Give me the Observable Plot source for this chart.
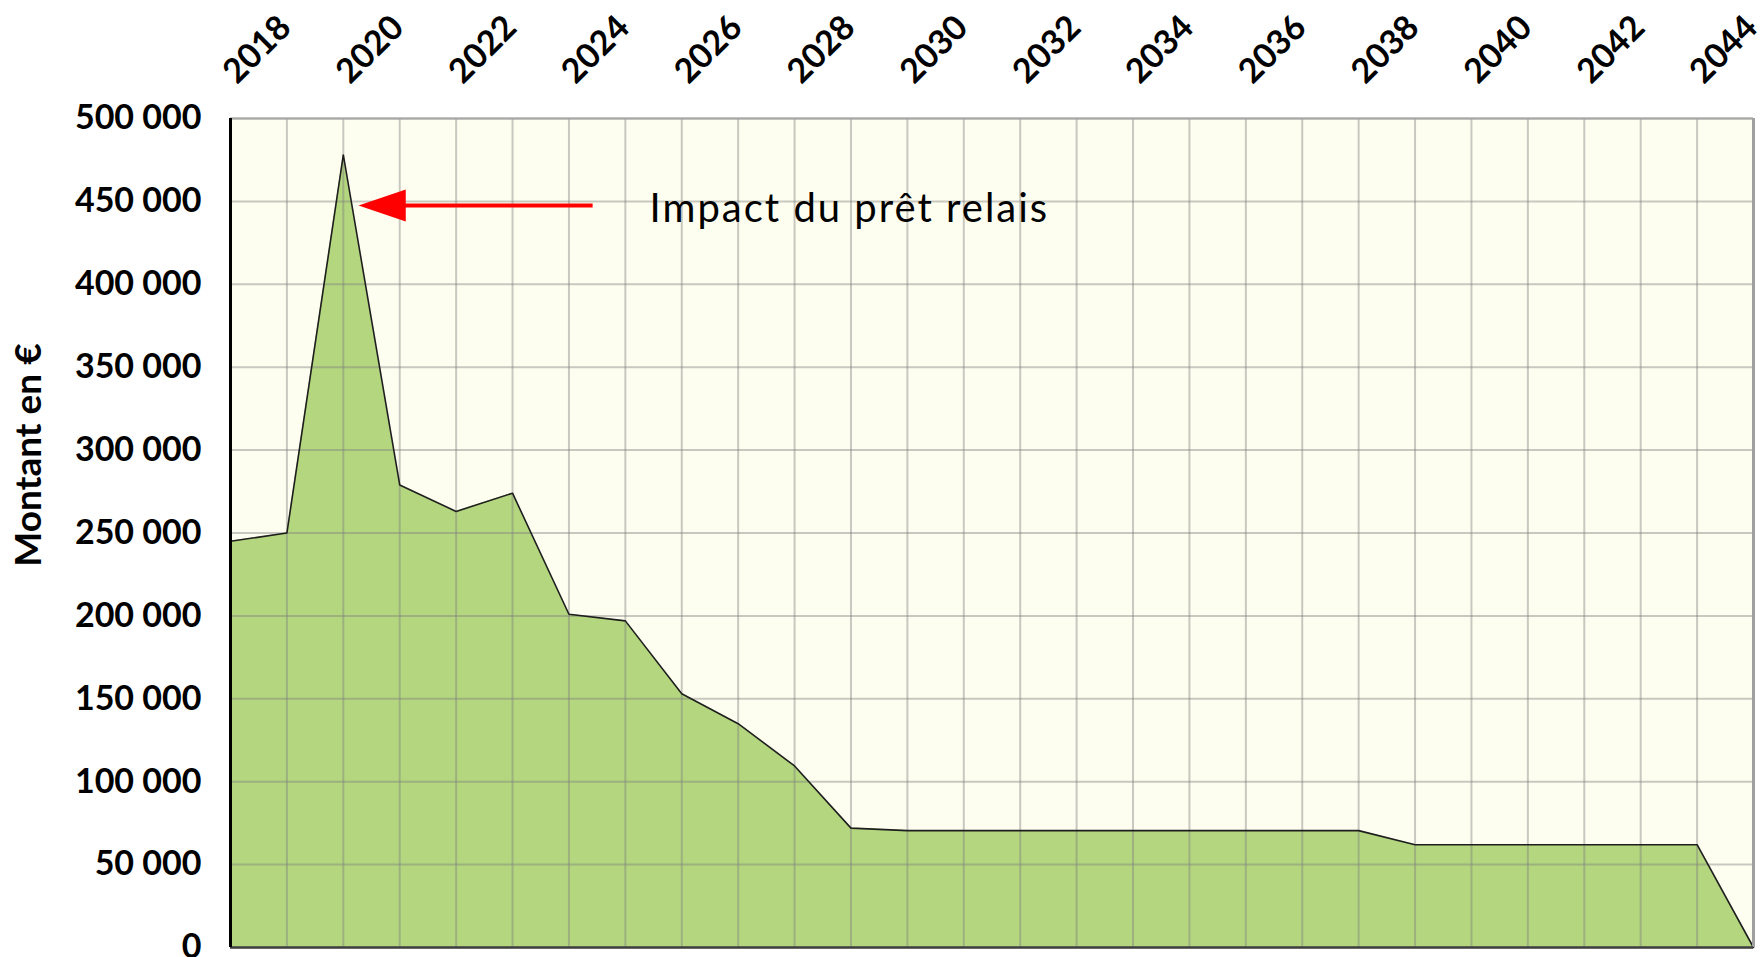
<!DOCTYPE html>
<html>
<head>
<meta charset="utf-8">
<script src="https://cdn.jsdelivr.net/npm/d3@7"></script>
<script src="https://cdn.jsdelivr.net/npm/@observablehq/plot@0.6"></script>
<style>
  html, body { margin: 0; padding: 0; background: #ffffff; }
  svg { display: block; }
</style>
</head>
<body>
<div id="chart"></div>
<script>
// ---- Data ----
const years = [2017, 2018, 2019, 2020, 2021, 2022, 2023, 2024, 2025, 2026,
               2027, 2028, 2029, 2030, 2031, 2032, 2033, 2034, 2035, 2036,
               2037, 2038, 2039, 2040, 2041, 2042, 2043, 2044];
const montants = [245000, 250000, 478000, 279000, 263000, 274000, 201000, 197000, 153000, 135000,
                  109500, 72000, 70500, 70500, 70500, 70500, 70500, 70500, 70500, 70500,
                  70500, 62000, 62000, 62000, 62000, 62000, 62000, 0];
const xTicks = [2018, 2020, 2022, 2024, 2026, 2028, 2030, 2032, 2034, 2036, 2038, 2040, 2042, 2044];
const yTicks = [0, 50000, 100000, 150000, 200000, 250000, 300000, 350000, 400000, 450000, 500000];
const yTitle = ["Montant en €"];
const annotationLabel = [{x: 2024.43, y: 437300, text: "Impact du prêt relais"}];
const arrowHead = [{x: 2019.27, y: 447500}];
const arrowShaft = [{x1: 2020.0, x2: 2023.42, y: 447500}];

const data = years.map((year, i) => ({year, montant: montants[i]}));
const fmt = d3.formatLocale({thousands: " ", grouping: [3], decimal: ",", currency: ["", " €"]}).format(",");

const leftTriangle = {
  draw(ctx, size) {
    const r = Math.sqrt(size / Math.PI);
    ctx.moveTo(0, 0);
    ctx.lineTo(r * 2.95, -r);
    ctx.lineTo(r * 2.95, r);
    ctx.closePath();
  }
};

const gridStroke = "#7f7f7f";
const chart = Plot.plot({
  width: 1761,
  height: 957,
  marginLeft: 230,
  marginRight: 8,
  marginTop: 118,
  marginBottom: 10,
  x: {domain: [2017, 2044], axis: null},
  y: {domain: [0, 500000], axis: null},
  style: {fontFamily: "Lato, 'Open Sans', sans-serif", background: "#ffffff", color: "#000"},
  marks: [
    Plot.frame({fill: "#fefef0", stroke: null}),
    Plot.areaY(data, {x: "year", y: "montant", fill: "#b3d67f", curve: "linear"}),
    Plot.ruleX(years, {stroke: gridStroke, strokeOpacity: 0.42, strokeWidth: 2}),
    Plot.ruleY(yTicks, {stroke: gridStroke, strokeOpacity: 0.42, strokeWidth: 2}),
    Plot.line(data, {x: "year", y: "montant", stroke: "#1e1e1e", strokeWidth: 1.6}),
    // borders
    Plot.ruleY([500000], {stroke: "#a6a6a6", strokeWidth: 2}),
    Plot.ruleX([2044], {stroke: "#a0a0a0", strokeWidth: 3}),
    Plot.ruleY([0], {stroke: "#404040", strokeWidth: 2.5}),
    Plot.ruleX([2017], {stroke: "#000000", strokeWidth: 3}),
    // y tick labels
    Plot.text(yTicks, {
      y: d => d, frameAnchor: "left", dx: -29, textAnchor: "end",
      text: d => fmt(d), fontSize: 34, fontWeight: "bold", fill: "#000"
    }),
    // x tick labels (top, rotated)
    Plot.text(xTicks, {
      x: d => d, frameAnchor: "top", dx: 6, dy: -89, rotate: -45,
      textAnchor: "end", lineAnchor: "bottom",
      text: d => String(d), fontSize: 34, fontWeight: "bold", fill: "#000"
    }),
    // y title
    Plot.text(yTitle, {
      frameAnchor: "left", dx: -201, dy: -78, rotate: -90,
      textAnchor: "middle", lineAnchor: "middle",
      text: d => d, fontSize: 37, fontWeight: "bold", fill: "#000"
    }),
    // annotation
    Plot.link(arrowShaft, {x1: "x1", x2: "x2", y1: "y", y2: "y", stroke: "#ff0000", strokeWidth: 4}),
    Plot.dot(arrowHead, {x: "x", y: "y", r: 16, symbol: leftTriangle, fill: "#ff0000", stroke: null}),
    Plot.text(annotationLabel, {
      x: "x", y: "y", text: "text", textAnchor: "start", lineAnchor: "bottom",
      fontSize: 40, fontWeight: "normal", fill: "#000"
    })
  ]
});
d3.select(chart).selectAll("text")
  .filter(function() { return this.textContent === annotationLabel[0].text; })
  .style("letter-spacing", "2px");
document.getElementById("chart").appendChild(chart);
</script>
</body>
</html>
